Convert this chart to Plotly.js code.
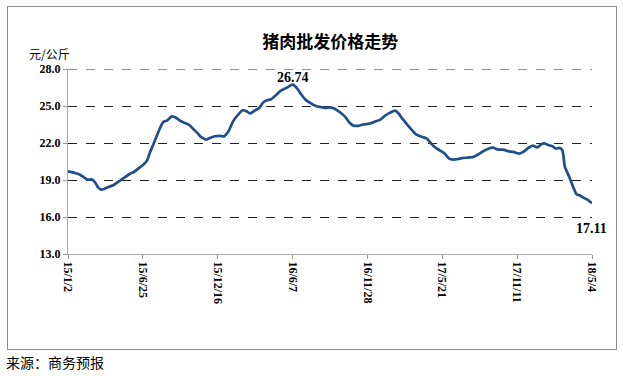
<!DOCTYPE html>
<html>
<head>
<meta charset="utf-8">
<script src="https://cdn.plot.ly/plotly-3.0.1.min.js"></script>
<style>
  html, body { margin: 0; padding: 0; background: #fff; }
  #wrap { position: relative; width: 623px; height: 376px; }
  #chart { width: 623px; height: 376px; }
  #frame { position: absolute; left: 7px; top: 6px; width: 608px; height: 342px; border: 1px solid #8c8c8c; pointer-events: none; }
</style>
</head>
<body>
<div id="wrap">
  <div id="chart"></div>
  <div id="frame"></div>
</div>
<script>
const dates = [
  '2015-01-02','2015-01-18','2015-01-31','2015-02-08','2015-02-16','2015-02-26','2015-03-06','2015-03-13',
  '2015-03-20','2015-03-27','2015-04-06','2015-04-17','2015-04-25','2015-05-04','2015-05-14','2015-05-26',
  '2015-06-04','2015-06-14','2015-06-26','2015-07-05','2015-07-11','2015-07-19','2015-07-27','2015-08-04',
  '2015-08-11','2015-08-21','2015-08-31','2015-09-10','2015-09-19','2015-10-01','2015-10-11','2015-10-20',
  '2015-11-01','2015-11-05','2015-11-19','2015-11-28','2015-12-10','2015-12-21','2015-12-31','2016-01-10',
  '2016-01-21','2016-02-02','2016-02-12','2016-02-20','2016-02-29','2016-03-12','2016-03-22','2016-03-30',
  '2016-04-09','2016-04-18','2016-04-30','2016-05-10','2016-05-23','2016-06-01','2016-06-07','2016-06-17',
  '2016-06-27','2016-07-06','2016-07-17','2016-07-31','2016-08-14','2016-08-21','2016-09-02','2016-09-14',
  '2016-09-25','2016-10-07','2016-10-17','2016-10-26','2016-11-07','2016-11-18','2016-12-04','2016-12-16',
  '2016-12-27','2017-01-08','2017-01-19','2017-01-31','2017-02-08','2017-02-18','2017-03-01','2017-03-11',
  '2017-03-22','2017-04-03','2017-04-15','2017-04-24','2017-05-04','2017-05-16','2017-05-27','2017-06-06',
  '2017-06-16','2017-06-27','2017-07-05','2017-07-20','2017-08-01','2017-08-13','2017-08-24','2017-09-05',
  '2017-09-16','2017-09-28','2017-10-10','2017-10-21','2017-11-02','2017-11-14','2017-11-25','2017-12-07',
  '2017-12-17','2017-12-28','2018-01-05','2018-01-13','2018-01-22','2018-02-02','2018-02-09','2018-02-17',
  '2018-02-24','2018-03-02','2018-03-12','2018-03-21','2018-03-29','2018-04-06','2018-04-16','2018-04-25',
  '2018-05-04'
];
const prices = [
  19.70,19.57,19.41,19.22,19.03,19.05,18.81,18.40,
  18.22,18.27,18.43,18.57,18.76,18.97,19.22,19.51,
  19.65,19.92,20.24,20.59,21.19,21.86,22.54,23.22,
  23.68,23.84,24.16,24.05,23.81,23.62,23.46,23.14,
  22.73,22.55,22.27,22.41,22.55,22.57,22.55,22.95,
  23.77,24.32,24.65,24.59,24.40,24.65,24.86,25.27,
  25.46,25.55,25.90,26.23,26.45,26.64,26.74,26.45,
  25.95,25.55,25.27,25.00,24.89,24.84,24.89,24.76,
  24.49,24.14,23.66,23.42,23.39,23.50,23.58,23.74,
  23.87,24.22,24.44,24.62,24.41,23.93,23.47,23.07,
  22.67,22.51,22.35,22.00,21.65,21.38,21.12,20.74,
  20.66,20.70,20.77,20.82,20.87,21.09,21.33,21.54,
  21.62,21.46,21.46,21.33,21.28,21.14,21.28,21.60,
  21.79,21.65,21.87,21.97,21.84,21.73,21.54,21.60,
  21.41,20.07,19.27,18.46,17.85,17.74,17.53,17.37,
  17.11
];
const tickDates = ['2015-01-02','2015-06-25','2015-12-16','2016-06-07','2016-11-28','2017-05-21','2017-11-11','2018-05-04'];
const tickLabels = ['15/1/2','15/6/25','15/12/16','16/6/7','16/11/28','17/5/21','17/11/11','18/5/4'];
const yTicks = [13, 16, 19, 22, 25, 28];
const yMax = 28;
const peakDate = '2016-06-07', peakValue = 26.74;
const lastDate = '2018-05-04', lastValue = 17.11;

const serif = 'Liberation Serif, Times New Roman, serif';
const cjk = 'Noto Sans CJK SC, sans-serif';

const trace = {
  x: dates, y: prices, type: 'scatter', mode: 'lines',
  line: { color: '#1f4e8c', width: 2.7, shape: 'spline', smoothing: 0.6 },
  hoverinfo: 'x+y', cliponaxis: false
};

const layout = {
  width: 623, height: 376,
  margin: { l: 68, r: 31, t: 69, b: 122 },
  paper_bgcolor: '#ffffff', plot_bgcolor: '#ffffff',
  showlegend: false,
  title: { text: '<b>猪肉批发价格走势</b>', font: { family: cjk, size: 17, color: '#000' },
           x: 0.53, xanchor: 'center', y: 0.887, yanchor: 'middle' },
  xaxis: {
    type: 'date', range: ['2015-01-02', '2018-05-04'],
    tickmode: 'array', tickvals: tickDates, ticktext: tickLabels.map(t => '<b>' + t + '</b>'),
    tickangle: 90, tickfont: { family: serif, size: 12, color: '#000' },
    ticks: 'outside', ticklen: 4, tickcolor: '#999', tickwidth: 1,
    showgrid: false, zeroline: false,
    showline: true, linecolor: '#aaa', linewidth: 1
  },
  yaxis: {
    range: [13, yMax], tickmode: 'array', tickvals: yTicks,
    ticktext: yTicks.map(v => '<b>' + v.toFixed(1) + '</b>'),
    tickfont: { family: serif, size: 12, color: '#000' },
    ticks: 'outside', ticklen: 4, tickcolor: '#999',
    showgrid: true, gridcolor: '#222', gridwidth: 1, griddash: 'dash',
    zeroline: false, showline: true, linecolor: '#aaa', linewidth: 1
  },
  shapes: [
    { type: 'line', xref: 'paper', yref: 'y', x0: 0, x1: 1, y0: yMax, y1: yMax,
      line: { color: '#222', width: 1, dash: 'dash' }, layer: 'below' }
  ],
  annotations: [
    { x: peakDate, y: peakValue, xref: 'x', yref: 'y', text: '<b>' + peakValue.toFixed(2) + '</b>',
      showarrow: false, yshift: 7, xshift: 0, font: { family: serif, size: 14, color: '#000' } },
    { x: lastDate, y: lastValue, xref: 'x', yref: 'y', text: '<b>' + lastValue.toFixed(2) + '</b>',
      showarrow: false, yshift: -25, xshift: -1, font: { family: serif, size: 14, color: '#000' } },
    { x: -0.035, y: 1.085, xref: 'paper', yref: 'paper', xanchor: 'center', yanchor: 'middle',
      text: '元/公斤', showarrow: false, font: { family: cjk, size: 12, color: '#000' } },
    { x: -0.122, y: -0.584, xref: 'paper', yref: 'paper', xanchor: 'left', yanchor: 'middle',
      text: '来源：商务预报', showarrow: false, font: { family: cjk, size: 14, color: '#000' } }
  ]
};

Plotly.newPlot('chart', [trace], layout, { displayModeBar: false, staticPlot: true });
</script>
</body>
</html>
